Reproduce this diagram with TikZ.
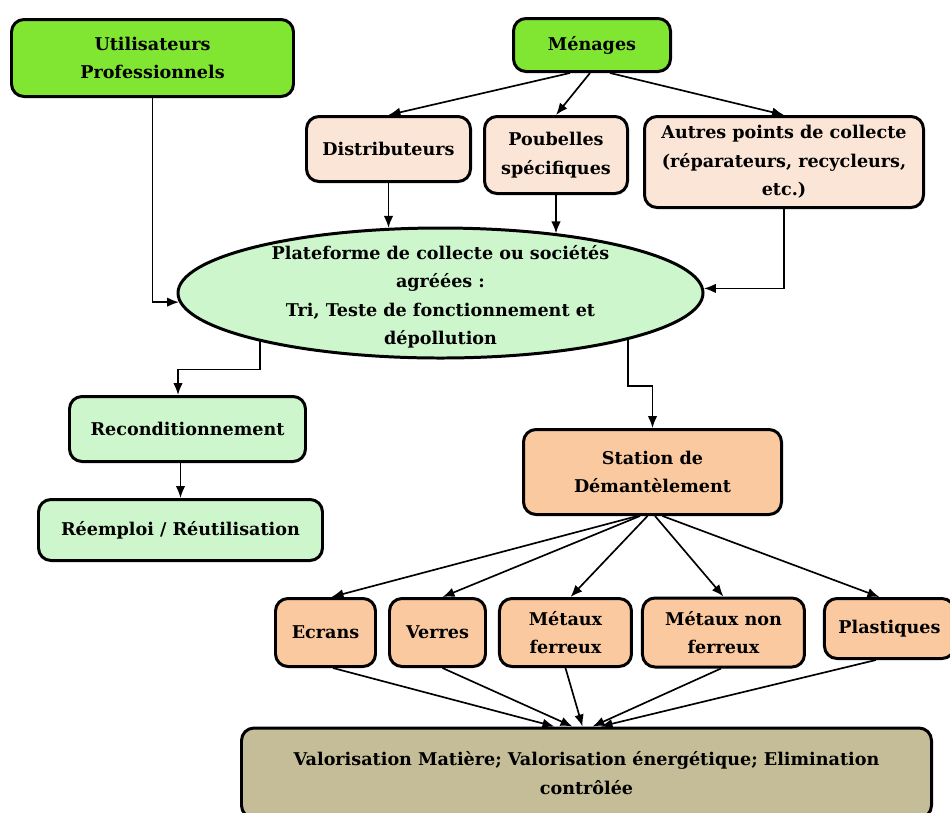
\documentclass[tikz,border=0pt]{standalone}
\usepackage{fontspec}
\setmainfont{DejaVu Serif}
\usepackage{tikz}
\usetikzlibrary{shapes, arrows.meta, positioning, calc}
\definecolor{vertvif}{RGB}{128,230,50}
\definecolor{peche}{RGB}{251,229,214}
\definecolor{vertpale}{RGB}{206,246,204}
\definecolor{orangeclair}{RGB}{250,201,160}
\definecolor{kaki}{RGB}{196,189,151}
\tikzstyle{box} = [rectangle, rounded corners=0.25cm, draw=black, line width=1.7pt, align=center, inner sep=2pt, font=\bfseries\fontsize{10}{16.2}\selectfont]
\tikzstyle{source} = [box, fill=vertvif]
\tikzstyle{collecte} = [box, fill=peche]
\tikzstyle{reuse} = [box, fill=vertpale]
\tikzstyle{tri} = [box, fill=orangeclair]
\tikzstyle{final} = [box, fill=kaki]
\tikzstyle{plateforme} = [ellipse, draw=black, line width=1.7pt, fill=vertpale, minimum width=10.5cm, minimum height=2.6cm, inner sep=0pt]
\tikzstyle{fleche} = [-{Latex[length=2.4mm, width=1.9mm]}, line width=0.95pt]

\begin{document}
\begin{tikzpicture}[node distance=4cm]
\useasboundingbox (0,0) rectangle (19,-16.24);
\node (util) [source, minimum width=5.64cm, minimum height=1.54cm] at (3.05,-1.16) {Utilisateurs\\Professionnels};
\node (men) [source, minimum width=3.14cm, minimum height=1.06cm] at (11.84,-0.9) {Ménages};
\node (dist) [collecte, minimum width=3.28cm, minimum height=1.3cm] at (7.77,-2.98) {Distributeurs};
\node (poub) [collecte, minimum width=2.86cm, minimum height=1.54cm] at (11.12,-3.1) {Poubelles\\spécifiques};
\node (autres) [collecte, minimum width=5.58cm, minimum height=1.82cm] at (15.68,-3.24) {Autres points de collecte\\(réparateurs, recycleurs,\\etc.)};
\node (plat) [plateforme] at (8.81,-5.86) {};
\node (plattxt) [align=center, font=\bfseries\fontsize{10}{16.2}\selectfont, yshift=-0.08cm] at (plat) {Plateforme de collecte ou sociétés\\agréées :\\Tri, Teste de fonctionnement et\\dépollution};
\node (recon) [reuse, minimum width=4.72cm, minimum height=1.3cm] at (3.75,-8.58) {Reconditionnement};
\node (reemp) [reuse, below of=recon, xshift=-0.14cm, yshift=1.98cm, minimum width=5.68cm, minimum height=1.22cm] {Réemploi / Réutilisation};
\node (station) [tri, minimum width=5.16cm, minimum height=1.7cm] at (13.05,-9.44) {Station de\\Démantèlement};
\node (ecrans) [tri, minimum width=2.0cm, minimum height=1.36cm] at (6.51,-12.65) {Ecrans};
\node (verres) [tri, right=0.22cm of ecrans, minimum width=1.92cm, minimum height=1.36cm] {Verres};
\node (ferreux) [tri, right=0.22cm of verres, minimum width=2.64cm, minimum height=1.36cm] {Métaux\\ferreux};
\node (nonfer) [tri, right=0.16cm of ferreux, minimum width=3.24cm, minimum height=1.38cm] {Métaux non\\ferreux};
\node (plast) [tri, right=0.34cm of nonfer, yshift=0.08cm, minimum width=2.6cm, minimum height=1.2cm] {Plastiques};
\node (valor) [final, minimum width=13.8cm, minimum height=1.8cm] at (11.73,-15.46) {Valorisation Matière; Valorisation énergétique; Elimination\\contrôlée};

% collecte
\draw[fleche] ([xshift=-0.44cm]men.south) -- (dist.north);
\draw[fleche] ([xshift=-0.04cm]men.south) -- (poub.north);
\draw[fleche] ([xshift=0.36cm]men.south) -- (autres.north);
\draw[fleche] (util.south) |- (plat.182);
\draw[fleche] (dist.south) -- (dist.south |- plat.129);
\draw[fleche] (poub.south) -- (poub.south |- plat.27);
\draw[fleche] (autres.south) |- (plat.1);

% sorties de la plateforme
\draw[fleche] (plat.195) -- ++(0,-0.56) -| ([xshift=-0.19cm]recon.north);
\draw[fleche] (reemp.north |- recon.south) -- (reemp.north);
\draw[fleche] (plat.346) -- ++(0,-0.92) -| (station.north);

% demantelement
\draw[fleche] ([xshift=-0.3cm]station.south) -- ([xshift=0.12cm]ecrans.north);
\draw[fleche] ([xshift=-0.25cm]station.south) -- ([xshift=0.1cm]verres.north);
\draw[fleche] ([xshift=-0.1cm]station.south) -- ([xshift=0.1cm]ferreux.north);
\draw[fleche] ([xshift=0.05cm]station.south) -- (nonfer.north);
\draw[fleche] ([xshift=0.2cm]station.south) -- ([xshift=-0.2cm]plast.north);

% valorisation
\draw[fleche] ([xshift=0.15cm]ecrans.south) -- ([xshift=-0.64cm]valor.north);
\draw[fleche] ([xshift=0.1cm]verres.south) -- ([xshift=-0.28cm]valor.north);
\draw[fleche] (ferreux.south) -- ([xshift=-0.08cm]valor.north);
\draw[fleche] ([xshift=-0.05cm]nonfer.south) -- ([xshift=0.12cm]valor.north);
\draw[fleche] ([xshift=-0.27cm]plast.south) -- ([xshift=0.28cm]valor.north);
\end{tikzpicture}
\end{document}
